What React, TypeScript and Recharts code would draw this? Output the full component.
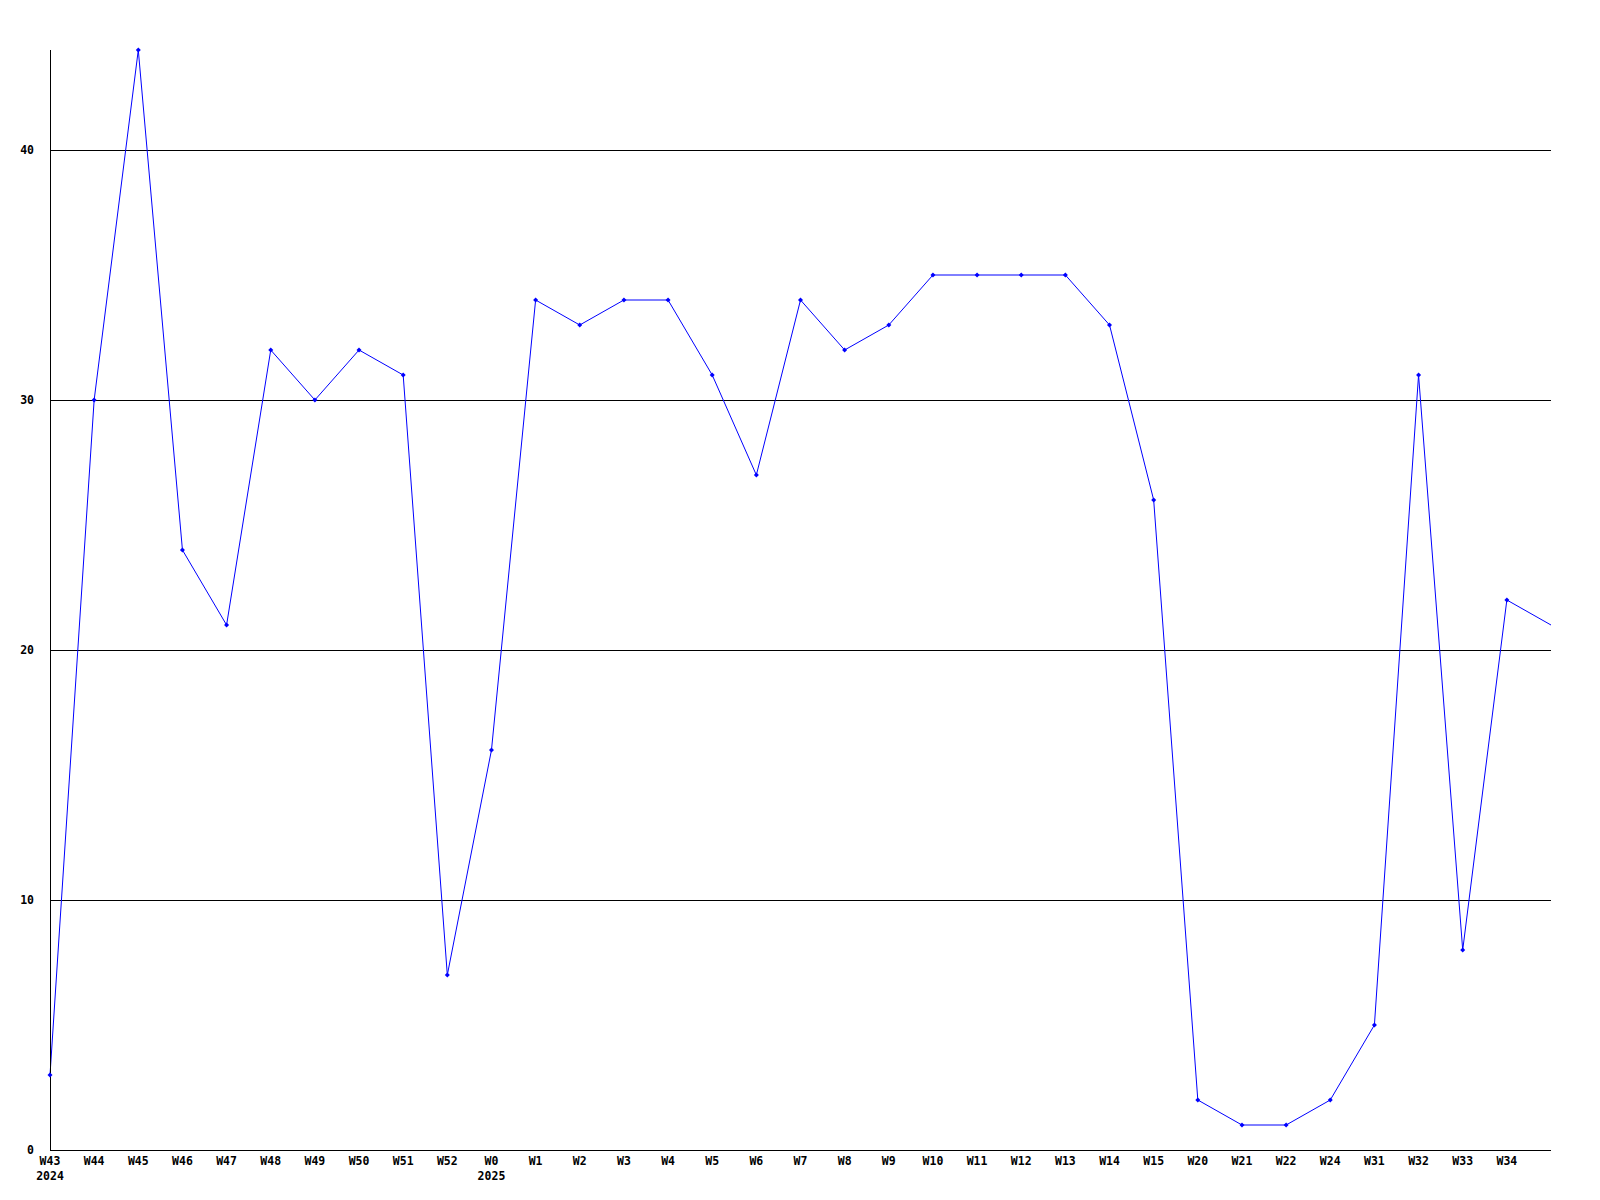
import { LineChart, Line, ReferenceLine, XAxis, YAxis } from "recharts";

const weeks = [
  "W43", "W44", "W45", "W46", "W47", "W48", "W49", "W50", "W51", "W52",
  "W0", "W1", "W2", "W3", "W4", "W5", "W6", "W7", "W8", "W9",
  "W10", "W11", "W12", "W13", "W14", "W15", "W20", "W21", "W22", "W24",
  "W31", "W32", "W33", "W34", "",
];
const years = ["2024", "", "", "", "", "", "", "", "", "", "2025"];
const counts = [
  3, 30, 44, 24, 21, 32, 30, 32, 31, 7,
  16, 34, 33, 34, 34, 31, 27, 34, 32, 33,
  35, 35, 35, 35, 33, 26, 2, 1, 1, 2,
  5, 31, 8, 22, 21,
];
const yTicks = [0, 10, 20, 30, 40];

const chartData = weeks.map((week, i) => ({
  key: i,
  week,
  year: years[i] ?? "",
  value: counts[i],
}));

const font = "'DejaVu Sans Mono', monospace";

function WeekTick(props: any) {
  const { x, y, payload } = props;
  const row = chartData[payload.value];
  return (
    <g>
      <text x={x} y={y + 7} textAnchor="middle" fontFamily={font} fontWeight="bold" fontSize={11.5} fill="#000">
        {row ? row.week : ""}
      </text>
      {row && row.year ? (
        <text x={x} y={y + 22} textAnchor="middle" fontFamily={font} fontWeight="bold" fontSize={11.5} fill="#000">
          {row.year}
        </text>
      ) : null}
    </g>
  );
}

function ValueTick(props: any) {
  const { y, payload } = props;
  return (
    <text x={34} y={y + 4} textAnchor="end" fontFamily={font} fontWeight="bold" fontSize={11.5} fill="#000">
      {payload.value}
    </text>
  );
}

function Marker(props: any) {
  const { cx, cy, index } = props;
  // the trailing point sits on the right border and has no marker
  if (cx == null || cy == null || index === counts.length - 1) return <g />;
  return (
    <path
      d={`M${cx},${cy - 2.5}L${cx + 2.5},${cy}L${cx},${cy + 2.5}L${cx - 2.5},${cy}Z`}
      fill="#0000ff"
    />
  );
}

export default function App() {
  return (
    <div style={{ position: "absolute", left: 0, top: 0, background: "#fff" }}>
      <LineChart
        width={1600}
        height={1200}
        data={chartData}
        margin={{ top: 50, right: 49, bottom: 0, left: 0 }}
      >
        {yTicks.slice(1).map((t) => (
          <ReferenceLine key={t} y={t} stroke="#000" strokeWidth={1} shapeRendering="crispEdges" />
        ))}
        <XAxis
          dataKey="key"
          type="category"
          height={50}
          interval={0}
          tickLine={false}
          axisLine={{ stroke: "#000", shapeRendering: "crispEdges" }}
          tick={<WeekTick />}
        />
        <YAxis
          width={50}
          domain={[0, 44]}
          ticks={yTicks}
          tickLine={false}
          axisLine={{ stroke: "#000", shapeRendering: "crispEdges" }}
          tick={<ValueTick />}
        />
        <Line
          type="linear"
          dataKey="value"
          stroke="#0000ff"
          strokeWidth={1}
          dot={<Marker />}
          activeDot={false}
          isAnimationActive={false}
        />
      </LineChart>
    </div>
  );
}
